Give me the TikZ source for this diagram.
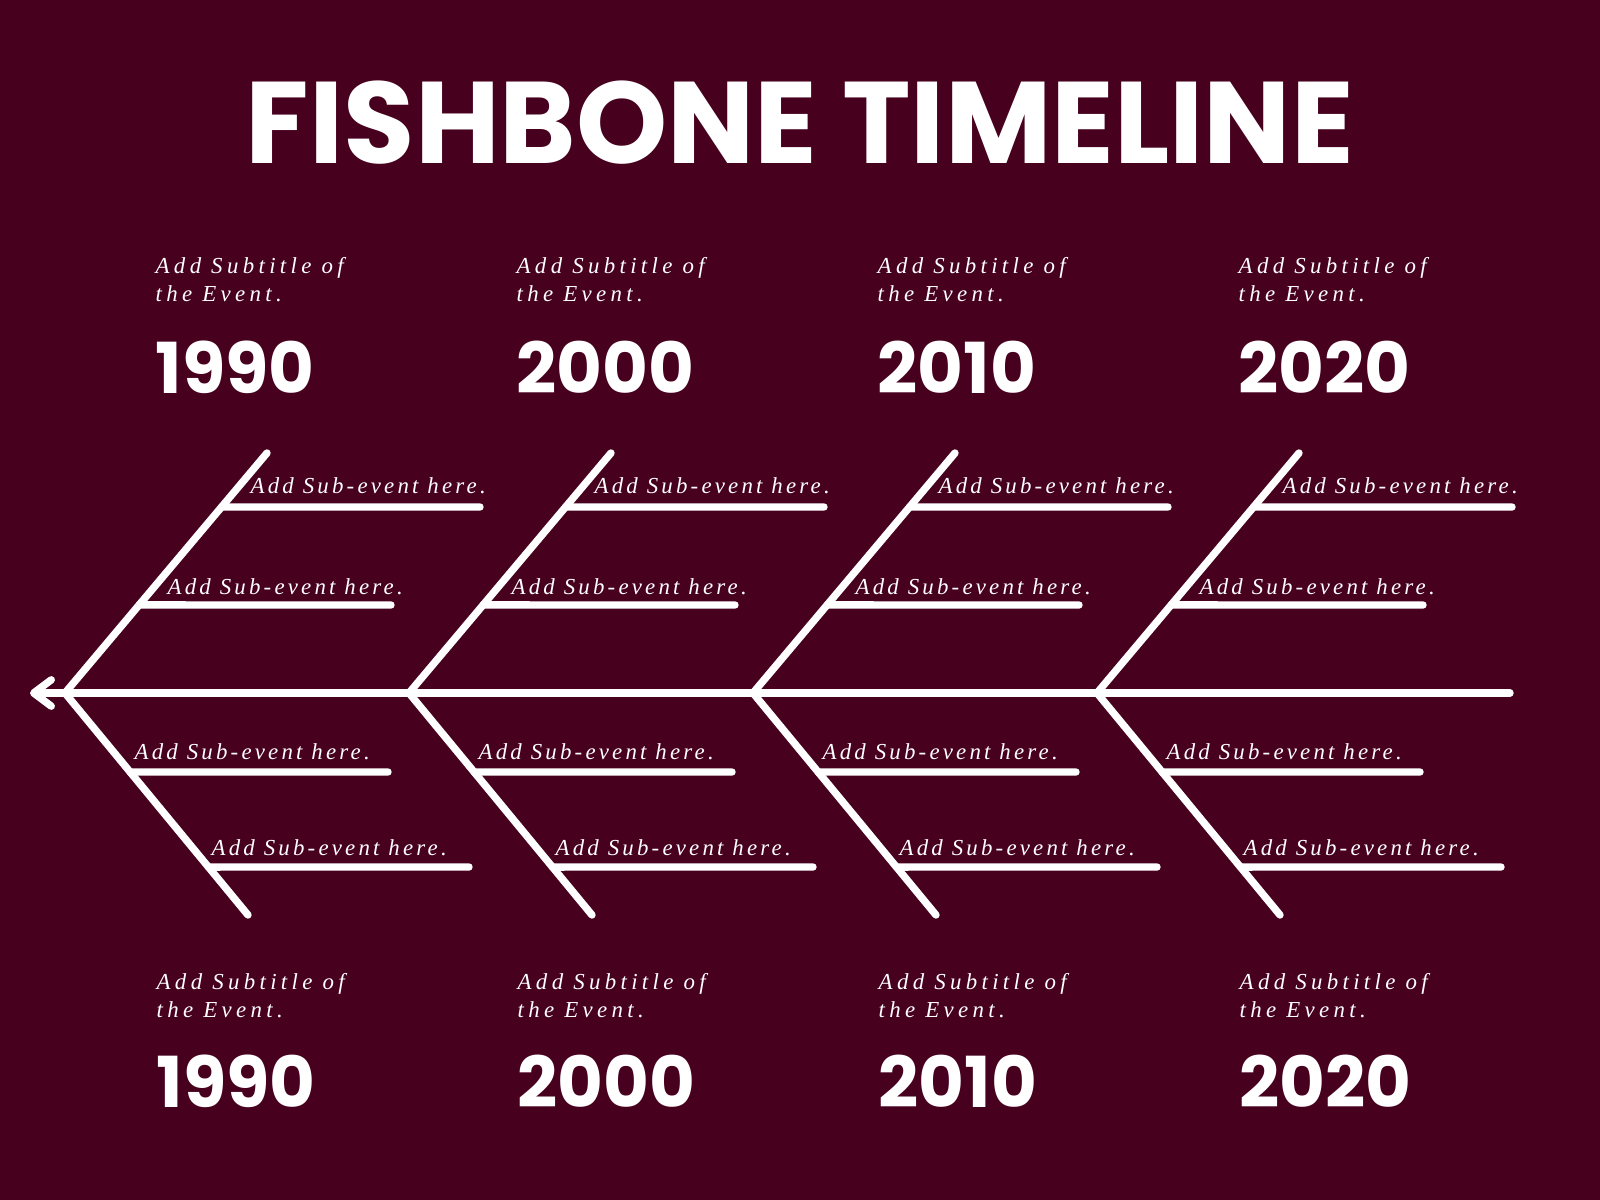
\documentclass[tikz,border=0pt]{standalone}
\usepackage{fontspec}
\usetikzlibrary{arrows.meta,calc}
\setmainfont{Liberation Serif}
\newfontfamily\spartanfont{Poppins}
\newfontfamily\noteseventfont{Liberation Serif}[LetterSpace=14]
\newfontfamily\notesubfont{Liberation Serif}[LetterSpace=19]
\definecolor{wine}{RGB}{71, 0, 30}
\tikzset{
  bone/.style={white, line width=2.1pt, line cap=round},
  subevent/.style={anchor=base west, inner sep=0pt, text=white,
                   font=\noteseventfont\itshape\fontsize{6.5}{8}\selectfont},
  subtitle/.style={anchor=base west, inner sep=0pt, text=white, align=left,
                   font=\notesubfont\itshape\fontsize{6.5}{7.7}\selectfont},
  year/.style={anchor=base west, inner sep=0pt, text=white,
               font=\spartanfont\bfseries\fontsize{20}{20}\selectfont},
}
\begin{document}
\begin{tikzpicture}[x=0.01cm, y=-0.01cm]
  \fill[wine] (0,0) rectangle (1600,1200);
  \useasboundingbox (0,0) rectangle (1600,1200);
  % title
  \node[text=white, inner sep=0pt, font=\spartanfont\bfseries\fontsize{33}{33}\selectfont]
       (title) at (800,123) {FISHBONE TIMELINE};
  % spine
  \coordinate (head) at (30,693);
  \coordinate (tail) at (1510,693);
  \draw[bone, {Straight Barb[round, length=5pt, width=7.5pt]}-] (head) -- (tail);
  % bones and sub-events
  \foreach \i in {0,...,3}{
    \pgfmathsetmacro\vx{65+344*\i}
    \coordinate (v\i)   at (\vx,693);
    \coordinate (top\i) at (\vx+202,453);
    \coordinate (bot\i) at (\vx+183,915);
    \draw[bone] (top\i) -- (v\i) -- (bot\i);
    \coordinate (ua\i) at ($(v\i)!0.775!(top\i)$);
    \coordinate (ub\i) at ($(v\i)!0.367!(top\i)$);
    \coordinate (la\i) at ($(v\i)!0.356!(bot\i)$);
    \coordinate (lb\i) at ($(v\i)!0.784!(bot\i)$);
    \coordinate (uaend\i) at (\vx+415,507);
    \coordinate (ubend\i) at (\vx+326,605);
    \coordinate (laend\i) at (\vx+323,772);
    \coordinate (lbend\i) at (\vx+404,867);
    \draw[bone] (ua\i) -- (uaend\i);
    \draw[bone] (ub\i) -- (ubend\i);
    \draw[bone] (la\i) -- (laend\i);
    \draw[bone] (lb\i) -- (lbend\i);
    \node[subevent] (uatext\i) at (\vx+185,493) {Add Sub-event here.};
    \node[subevent] (ubtext\i) at (\vx+102,594) {Add Sub-event here.};
    \node[subevent] (latext\i) at (\vx+69,759)  {Add Sub-event here.};
    \node[subevent] (lbtext\i) at (\vx+146,855) {Add Sub-event here.};
  }
  % subtitles and years (base = last line)
  \foreach \yr [count=\j from 0] in {1990,2000,2010,2020}{
    \pgfmathsetmacro\cx{155+361*\j}
    \node[subtitle] (subtop\j) at (\cx,301)    {Add Subtitle of\\the Event.};
    \node[year]     (yeartop\j) at (\cx,393)   {\yr};
    \node[subtitle] (subbot\j) at (\cx+1,1017) {Add Subtitle of\\the Event.};
    \node[year]     (yearbot\j) at (\cx+1,1107) {\yr};
  }
\end{tikzpicture}
\end{document}
